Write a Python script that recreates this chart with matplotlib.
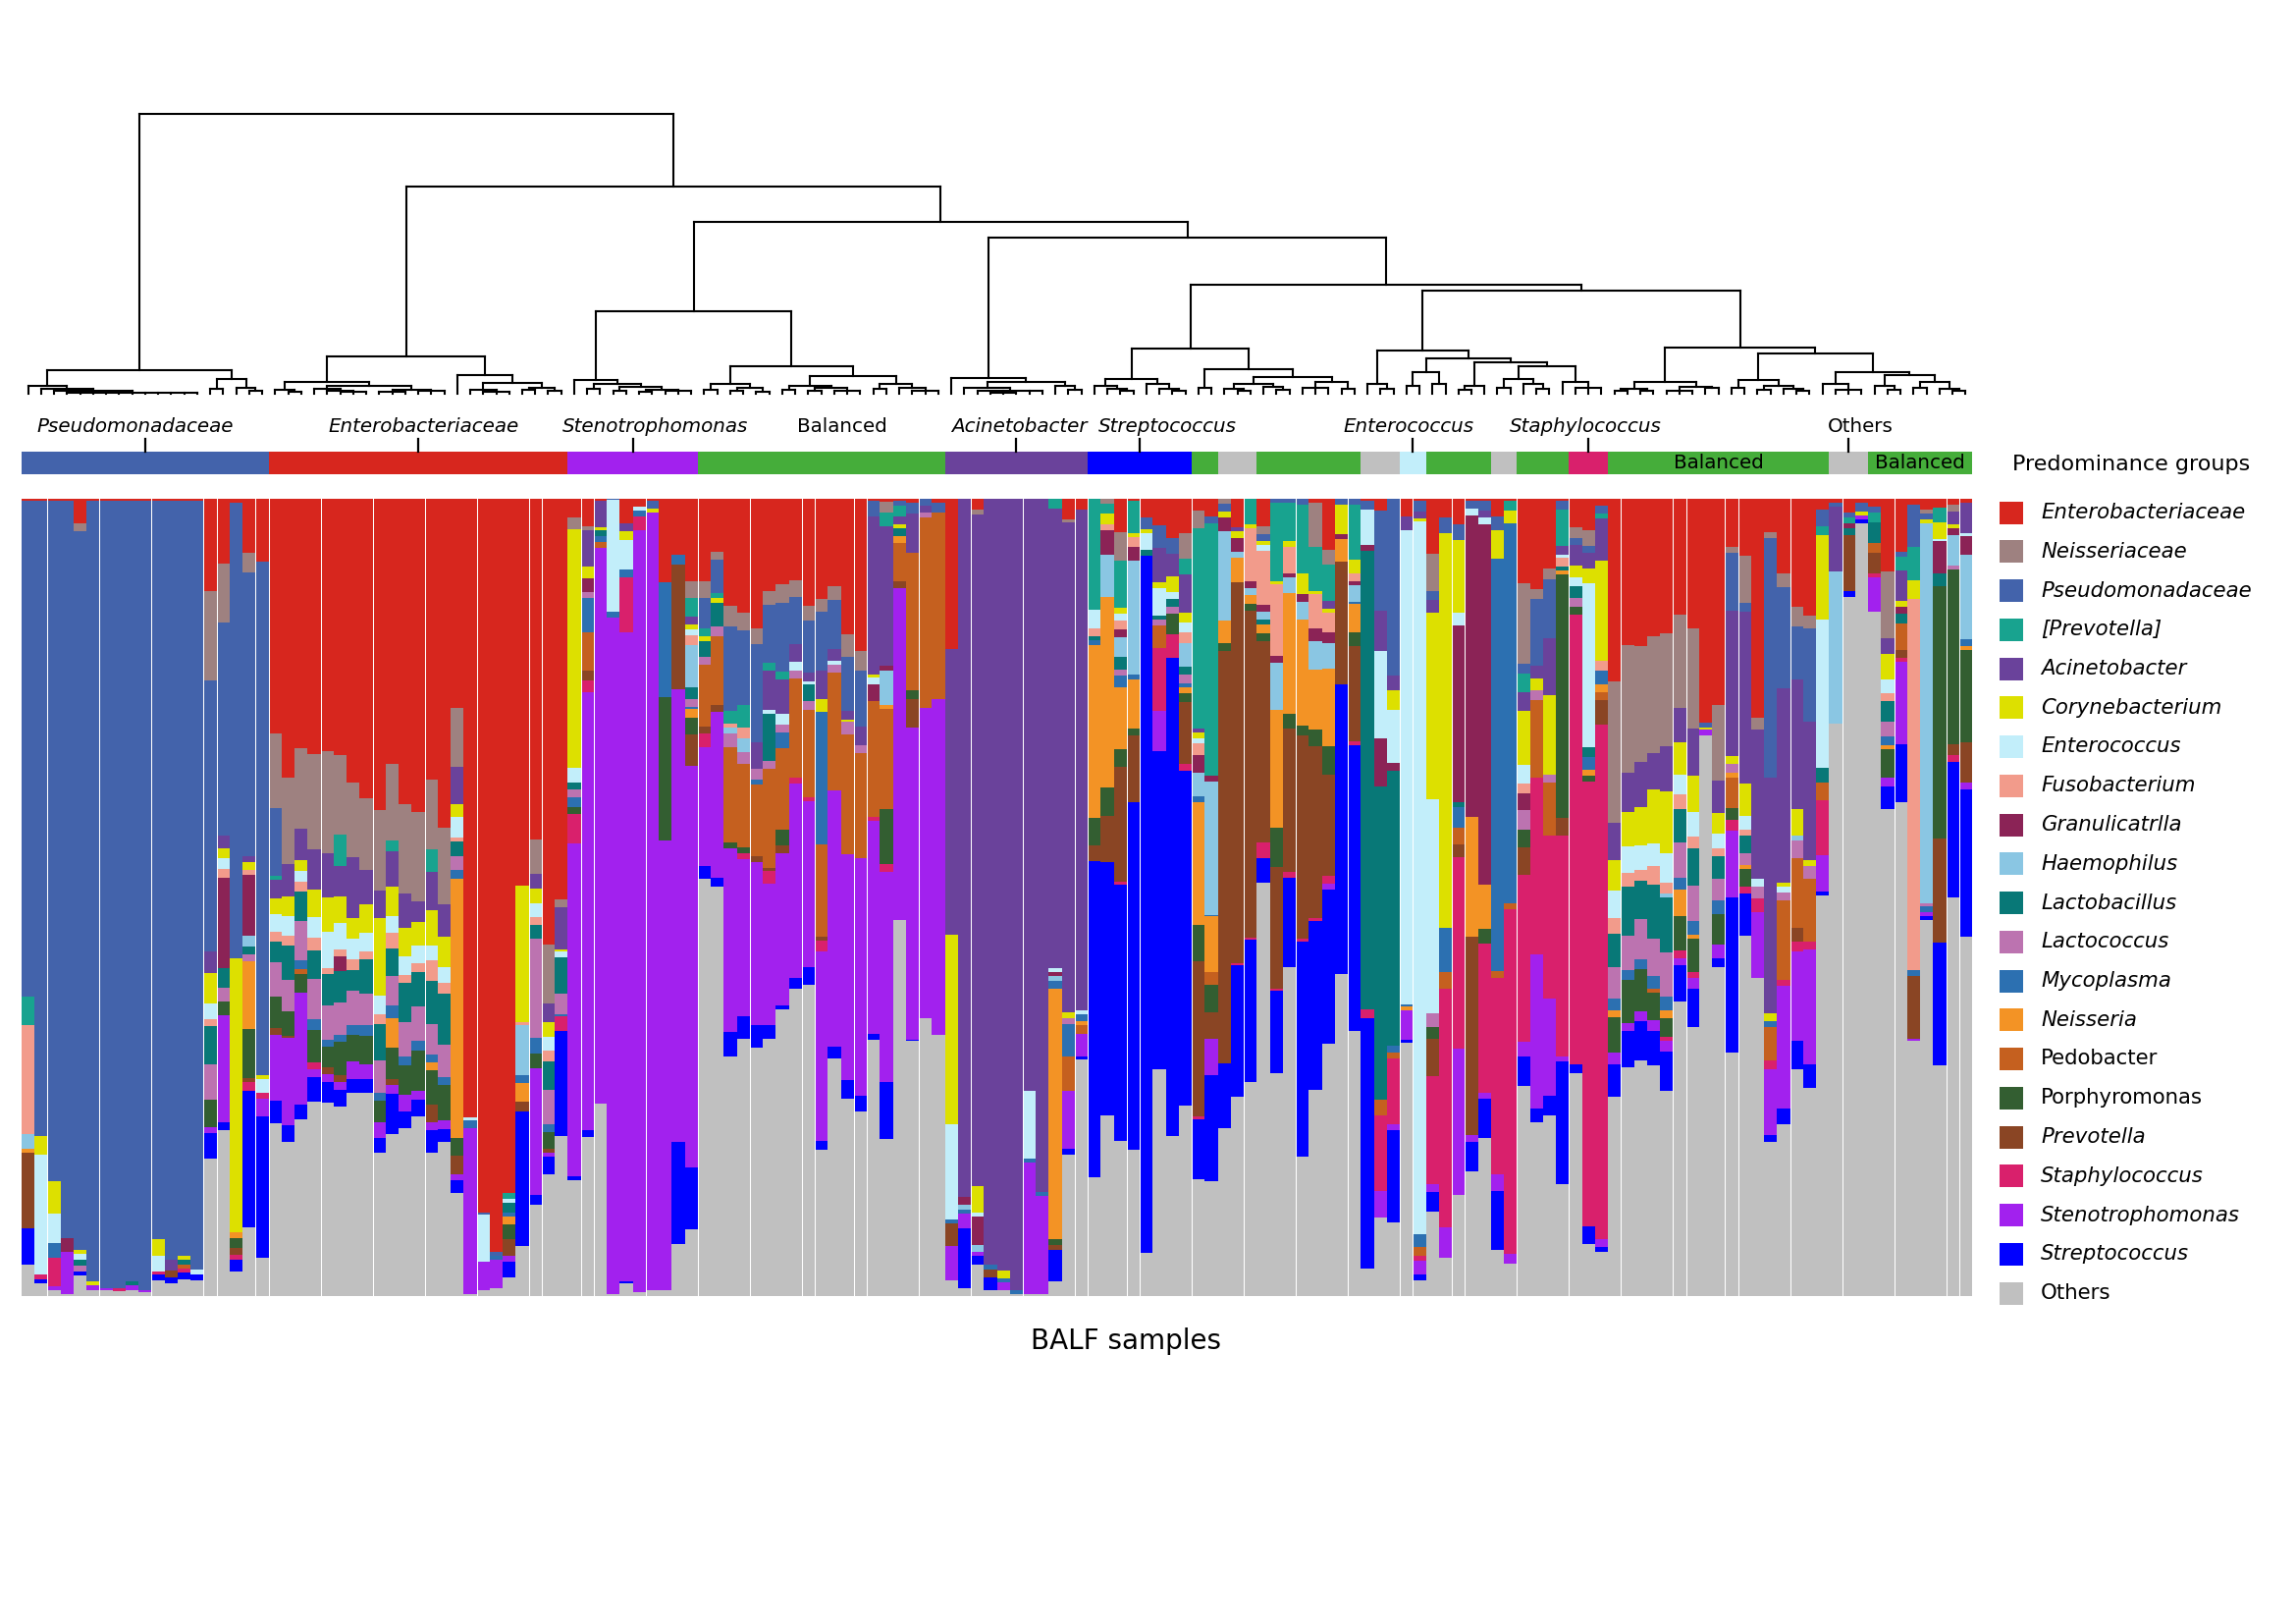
import numpy as np
import matplotlib
matplotlib.use("Agg")
import matplotlib.pyplot as plt
from matplotlib.patches import Rectangle
from matplotlib.collections import LineCollection
import matplotlib.transforms as mtransforms

plt.rcParams['font.family'] = ['DejaVu Sans']

# ---------------- categories (legend order, top to bottom) ----------------
taxa = ["Enterobacteriaceae", "Neisseriaceae", "Pseudomonadaceae", "[Prevotella]",
        "Acinetobacter", "Corynebacterium", "Enterococcus", "Fusobacterium",
        "Granulicatrlla", "Haemophilus", "Lactobacillus", "Lactococcus",
        "Mycoplasma", "Neisseria", "Pedobacter", "Porphyromonas", "Prevotella",
        "Staphylococcus", "Stenotrophomonas", "Streptococcus", "Others"]
taxon_colors = ["#D7261E", "#9E8180", "#4363AB", "#18A38F", "#6A429B", "#DDE000",
                "#C2EEFA", "#F29B8B", "#8B2356", "#8AC6E3", "#087877", "#BC73B0",
                "#2C70B1", "#F39325", "#C5601F", "#335E31", "#8A4524", "#D9206C",
                "#A221EE", "#0000FF", "#C0C0C0"]
upright_taxa = ["Pedobacter", "Porphyromonas", "Others"]

# ---------------- relative abundances (%) per sample, 150 BALF samples ----------------
others = [4, 1.6, 0.7, 0.3, 2.6, 0.7, 0.7, 0.6, 0.8, 0.5,
          2, 1.6, 2.1, 2, 17.2, 20.8, 3.1, 8.6, 4.8, 21.8,
          19.3, 22.1, 24.4, 24.3, 23.9, 25.5, 25.5, 18, 20.3, 21,
          22.6, 18, 19.3, 12.9, 0.3, 0.8, 1, 2.3, 6.3, 11.4,
          15.3, 20.1, 14.5, 19.9, 24.1, 0.3, 1.6, 0.5, 0.7, 0.8,
          6.5, 8.4, 52.3, 51.4, 30, 32.3, 31.2, 32.3, 36, 38.6,
          39, 18.3, 29.8, 24.8, 23.1, 32.2, 19.7, 47.2, 32, 34.9,
          32.7, 2, 1, 4, 0.8, 0.7, 0.3, 0.3, 0.3, 1.8,
          17.7, 29.7, 14.9, 22.6, 19.5, 18.3, 5.4, 28.4, 20.1, 23.9,
          14.7, 14.4, 21, 25, 26.9, 51.8, 27.9, 41.3, 17.5, 25.9,
          31.7, 40.4, 33.3, 3.4, 9.9, 9.2, 31.8, 2, 10.4, 4.8,
          12.7, 15.7, 19.8, 5.8, 4.1, 25.7, 21.8, 22.6, 14, 27.9,
          6.5, 5.6, 25, 28.7, 29.6, 29, 25.7, 37, 33.8, 70.3,
          41.3, 30.5, 45.2, 39.9, 19.3, 21.5, 28.4, 26.1, 50.3, 71.8,
          87.7, 96.9, 85.8, 61.1, 61.9, 32, 47.2, 29, 50, 45.4]
streptococcus = [4.5, 0.5, 0, 0, 0.5, 0, 0, 0, 0, 0,
                 0.7, 0.7, 0.9, 0.7, 3.2, 1, 1.4, 17.2, 17.8, 2.8,
                 2.2, 1.8, 3, 2.6, 2, 1.7, 1.7, 1.8, 5.1, 2.1,
                 2, 2.8, 1.7, 1.7, 0, 0, 0, 2, 16.8, 1.3,
                 2.2, 13.2, 0.5, 0.9, 0, 0, 0.3, 0, 0, 0,
                 12.8, 7.7, 1.7, 1.1, 3.1, 2.8, 2.8, 1.7, 0.5, 1.3,
                 2.2, 1.1, 1.5, 2.3, 2, 0.7, 7.1, 0, 0.2, 0,
                 0, 0, 7.5, 1, 1.5, 0, 0, 0, 0, 4,
                 0.8, 0.3, 39.6, 31.7, 32.1, 43.6, 87.5, 39.9, 59.9, 42,
                 7.5, 13.3, 8.2, 16.5, 17.8, 3.1, 10.4, 11.2, 26.9, 21.1,
                 19.3, 36.3, 35.8, 31.4, 0, 11.6, 0.4, 0.7, 2.4, 0,
                 0, 3.6, 5, 7.4, 0, 3.6, 1.7, 2.5, 15.4, 1.2,
                 2.2, 0.5, 4.1, 4.6, 4.9, 4.3, 5, 4.5, 4.8, 0,
                 1.1, 19.5, 5.3, 0, 0.9, 2, 3.6, 3, 0.4, 0,
                 0.7, 0.5, 0, 2.8, 7.3, 0, 0.5, 15.3, 17, 18.5]
stenotrophomonas = [0, 0, 0.5, 5.3, 0, 0.7, 0.3, 0, 0.5, 0.3,
                    0, 0, 0, 0, 0.8, 13.3, 0, 0, 2.2, 8.4,
                    10.9, 14, 1, 0.9, 1, 2.2, 1.8, 2, 1.1, 2.1,
                    1.2, 1, 1.1, 0.7, 20.8, 3.5, 3.5, 0.7, 0, 15.9,
                    0.5, 0, 41.8, 54.9, 69.8, 84.8, 81.3, 95.6, 97.6, 56.3,
                    56.8, 50.4, 14.8, 20.8, 23.1, 19.7, 20.5, 17.8, 19.1, 24.4,
                    20.8, 23.8, 32.1, 28.3, 29.8, 26.7, 26.4, 41.6, 39.1, 38.9,
                    42.2, 4.3, 1.8, 0.5, 0, 1, 0, 16.5, 12.3, 0,
                    7.3, 2.8, 0, 0, 0, 0, 0, 5.1, 0, 0,
                    0, 4.6, 0, 0, 0, 0, 0, 0, 0, 0,
                    0.7, 0, 0, 0, 3.3, 0.7, 3.6, 1.7, 1, 3.8,
                    18.3, 0.9, 0.7, 2.1, 1.2, 1.8, 19.3, 12.2, 0.7, 0,
                    0, 1.1, 1.5, 0.9, 1.2, 1.3, 1.3, 0.9, 1.3, 0.7,
                    1.7, 8.4, 0, 8.3, 8.3, 15.4, 11.2, 14.4, 4.6, 0,
                    0, 0.5, 4.3, 1.1, 10.4, 0.3, 0.5, 0, 0, 0.9]
staphylococcus = [0, 0.6, 3.6, 0, 0, 0, 0, 0.4, 0, 0,
                  0.4, 0, 0.5, 0, 0, 0, 0.7, 1, 0.7, 0,
                  0, 0, 0.9, 0, 0, 0, 0, 0, 0, 0,
                  0, 0, 0, 0, 0, 0, 0, 0, 0, 0,
                  0, 1.8, 3.7, 1.5, 0, 0, 6.9, 1.8, 0, 0,
                  0, 0, 1.8, 0, 0, 0.7, 0, 1.6, 0, 0.7,
                  0.5, 1.3, 0, 0, 0, 0.5, 1, 0, 0, 0,
                  0, 0, 0, 0, 0, 0, 0, 0, 0, 0,
                  0, 0, 0, 0, 0.4, 0, 0, 7.9, 3, 0.8,
                  0.3, 0, 0, 0.3, 0.3, 2, 0.3, 0.7, 0.4, 0.4,
                  1, 0, 0.5, 1.1, 9.4, 8.3, 0, 0.7, 13.3, 30,
                  24.1, 0, 18.7, 24.6, 43.2, 20.3, 22.2, 20.5, 27.7, 56.4,
                  55.8, 64.5, 0, 0, 0, 0, 0.5, 0.9, 0.7, 0,
                  0, 1.3, 0.9, 1.7, 1, 0.8, 1.3, 0.9, 6.9, 0,
                  0, 0, 0.5, 0, 0.5, 0, 0, 0, 0.9, 0]
prevotella = [9.5, 0, 0, 0, 0, 0, 0, 0, 0, 0,
              0, 0.9, 0, 0, 0, 0, 0.8, 0.6, 0, 0.8,
              0.3, 0, 0, 0.9, 0.9, 0, 0, 0, 0.7, 0,
              0, 2.3, 0, 2.3, 0, 0, 0, 2.2, 1.3, 0,
              0.5, 0, 0, 1.2, 0, 0, 0, 0, 0, 0,
              15.7, 4, 0.8, 0.8, 0, 0, 0.7, 0.3, 0.9, 0,
              0, 0.5, 0, 0, 0, 0, 0, 0.9, 3.6, 0,
              0, 2.8, 0, 0, 1, 0, 0, 0, 0, 0.6,
              0, 0, 2, 5.8, 14.5, 8.4, 0, 0, 0, 7.8,
              19.5, 3.3, 51.7, 47.7, 40.9, 25.3, 15.2, 18, 25.5, 21.6,
              12.7, 15.4, 11.9, 0, 0, 0, 0, 0, 4.6, 0,
              1.5, 24.9, 0, 0, 0, 3.4, 0, 0, 2.2, 0,
              0, 3.1, 0, 0, 0, 0, 0, 0, 0, 0,
              0, 0, 0, 0, 0, 0, 1.7, 0, 0, 0,
              7.1, 0, 2.6, 0, 0.9, 7.8, 0, 13.1, 1.3, 5.1]
porphyromonas = [0, 0, 0, 0, 0, 0, 0, 0, 0, 0,
                 0, 0, 0, 0, 3.4, 1.8, 1.3, 6.1, 0, 4,
                 3, 2.3, 4.1, 2.6, 4.2, 3.3, 3.6, 2.6, 4, 3.8,
                 5, 4.3, 4.4, 2.2, 0, 0, 0, 1.8, 0, 1.8,
                 2, 0, 0.8, 0, 0, 0, 0, 0, 0, 18,
                 0, 2, 0, 0, 0.7, 0.8, 0, 0, 2, 0,
                 0, 0, 0, 0, 0, 0, 6.9, 0, 1.1, 0,
                 0, 0, 0, 0, 0, 0, 0, 0, 0, 0.7,
                 0, 0, 3.5, 3.6, 2.2, 0.9, 0, 0, 2.6, 1.1,
                 4.6, 3.4, 1, 0, 0.9, 0.9, 5, 1.8, 1.3, 2,
                 3.6, 0, 1.7, 0, 0, 0, 0, 0, 1.5, 0,
                 0, 0, 1.8, 0, 0, 2.2, 0, 0, 30.5, 1,
                 0.8, 0, 4.4, 5.4, 5.3, 3.5, 2.4, 4.4, 4.2, 0,
                 3.8, 1.5, 2.2, 0, 0, 0, 0, 0, 0, 0,
                 0, 0, 0, 3.6, 0, 0, 0, 31.7, 21.9, 11.6]
pedobacter = [0, 0, 0, 0, 0, 0, 0, 0, 0, 0,
              0, 0, 0.5, 0, 0, 0, 0, 0, 0, 0,
              0, 0.7, 0, 0, 0, 0, 0, 0, 0, 0,
              0, 0, 0, 0, 0, 0, 0, 0, 0, 0,
              0, 0, 0, 4.9, 0.7, 0, 0, 0, 0, 0,
              0, 0, 7.8, 8.6, 11.9, 10.4, 9, 12.5, 10.2, 12.5,
              11, 11.6, 14.7, 15, 13.1, 14.5, 12.5, 4.8, 17.2, 23.8,
              23.4, 0, 0, 0, 0, 0, 0, 0, 0, 0,
              4.3, 1.1, 0, 0, 0, 0, 0, 2.8, 0, 0,
              0, 1.7, 0, 0, 0, 0, 0, 0, 0, 0,
              0, 0, 0, 0, 2, 0.8, 0, 1, 0, 2,
              2.2, 0, 0, 0.9, 0.7, 0, 9.7, 6.6, 0, 0,
              0, 1, 0, 0, 0, 0.5, 0, 0, 0, 0,
              0, 3.8, 0, 0, 4.3, 9.9, 8.7, 7.9, 2.2, 0,
              0, 0, 1.2, 0, 3.3, 0, 0, 0, 0, 0]
neisseria = [0.5, 0, 0, 0, 0, 0, 0, 0, 0, 0,
             0, 0, 0, 0, 0, 0, 0.7, 8.5, 0, 0,
             0, 0, 0, 0, 0, 0, 0, 0, 3.7, 0,
             0, 1, 0, 32.6, 0, 0, 0, 1, 2.3, 0,
             0, 0, 0, 0, 0, 0, 0, 0, 0, 0,
             0, 1.1, 0, 0, 0, 0, 0, 0, 0, 0,
             0, 0, 0, 0, 0, 0, 0.5, 0.8, 0, 0,
             0, 0, 0, 0, 0, 0, 0, 0, 0, 31.5,
             0, 0.5, 21.6, 23.8, 7.7, 6.1, 0, 0, 0, 0.7,
             15.4, 6.9, 2.8, 3.1, 1.1, 1.1, 14.7, 15.2, 13.2, 7.6,
             9.7, 2.8, 3.6, 0, 0, 0, 0.5, 0, 0, 0,
             0, 15, 5.6, 0, 0, 0, 0, 0, 0.5, 0,
             0.7, 0.9, 0.8, 0, 0, 0, 0.9, 3.3, 0.5, 0,
             0, 0.7, 0.5, 0, 0, 0, 0, 0, 0, 0,
             0, 0, 0, 0.5, 0, 0, 0, 0, 0, 0.5]
mycoplasma = [0, 0, 1.8, 0, 0, 0, 0, 0, 0, 0,
              0, 0, 0, 0, 0, 0, 0, 0, 0, 0,
              0, 1, 1.3, 0.8, 0.9, 1.3, 1.3, 1, 1.5, 1,
              1.3, 0.9, 1, 1.1, 1, 0, 0.5, 0.5, 1, 2,
              1, 0.3, 1.2, 4.3, 0.7, 0.7, 0.9, 0.7, 0, 14.4,
              1.2, 0.3, 0, 0, 0, 0, 0.7, 0, 2, 0,
              0, 16.6, 0, 0, 0, 0, 0, 0, 0, 0,
              0, 0.5, 0.5, 0, 0.7, 0.5, 0.5, 0.5, 0.5, 0.9,
              4.1, 0.9, 0.7, 0, 1.5, 0.7, 0, 0, 0, 0.5,
              0.7, 0.2, 0, 0, 0, 0, 0, 0, 0, 0,
              0, 0, 0.3, 0, 0, 0.8, 0.3, 1.7, 0, 5.6,
              2.5, 0, 0, 51.7, 47.7, 0, 0, 0, 0, 0,
              1.6, 1.8, 1.5, 1.3, 1.3, 1.6, 1.8, 1.5, 1.8, 0,
              1.7, 0, 0, 0, 0.7, 0, 0, 0, 0, 0,
              0, 0, 0, 1.1, 0, 0.8, 0.7, 0, 0, 0.9]
lactococcus = [0, 0, 0, 0, 0.7, 0, 0, 0, 0, 0,
               0, 0, 0, 0, 4.5, 1.7, 0, 0.9, 0, 4.3,
               4, 5, 5.1, 4.3, 4, 4.3, 4, 4.1, 3.8, 4.3,
               4.3, 3.8, 4, 1.7, 0, 0, 0, 0, 0, 12.4,
               4.3, 2.5, 1, 0.7, 0, 0, 0, 0, 0, 0,
               0, 1, 1, 1.3, 1.8, 1.5, 1.3, 1, 1, 1,
               1.1, 0, 1, 1.6, 1, 0, 0, 0, 0, 0.7,
               0, 0, 0, 0, 0, 0, 0, 0, 0, 0,
               0.7, 0, 0, 0, 0.8, 0, 0, 0.7, 0.9, 1.1,
               0, 0, 0, 0, 0, 0, 0, 0, 0, 0,
               0, 0, 0, 0, 0, 0, 0, 0, 1.7, 0,
               0, 0, 0, 0, 0, 2.4, 1.3, 1, 0, 1,
               0, 0, 4, 4.3, 5, 4.6, 5.5, 4.4, 4.4, 0,
               2.8, 1, 1.5, 1.5, 0, 1, 2.2, 1.7, 0, 0,
               0, 0, 0, 1.8, 0, 0, 0.3, 0, 0.5, 0]
lactobacillus = [0, 0, 0, 0, 0.8, 0, 0, 0, 0.5, 0,
                 0, 0, 0.5, 0, 4.8, 2.4, 0, 1, 0, 2.6,
                 4.3, 3.6, 3.5, 4, 4, 2.6, 4.3, 4.5, 3.4, 5,
                 4.3, 5.5, 6.5, 1.9, 0, 0, 0, 1.2, 0, 1.8,
                 3.6, 4.6, 0.9, 0, 0.7, 0, 0, 0, 0, 0,
                 0, 1.5, 2, 3, 0, 0, 0, 5.9, 0, 0,
                 2, 0, 0, 0, 0, 0, 0, 1, 0, 0,
                 0, 0, 0, 0, 0, 0, 0, 0, 0, 0,
                 0, 0, 0.5, 0, 1.5, 0, 0.7, 0.5, 0.9, 1.1,
                 0, 0, 0, 0, 0, 0.7, 0, 0, 0, 0,
                 0, 0, 0, 57.6, 39.3, 34.5, 0, 0, 0, 0,
                 0.7, 0, 0, 0, 0, 0, 0, 0, 0.5, 1.6,
                 1.3, 0, 4.1, 6.1, 4.8, 6.8, 6.9, 4.2, 4.6, 0,
                 2.8, 0, 2.2, 0, 0, 0, 0, 0, 1.8, 0,
                 0.8, 0, 2.6, 2.6, 1.3, 0, 0, 1.6, 0, 0]
haemophilus = [1.8, 0, 0, 0, 0, 0, 0, 0, 0, 0,
               0, 0, 0, 0, 0, 0, 0, 1.3, 0, 0,
               0, 0, 0, 0, 0, 0, 0, 0, 0, 0,
               0, 0, 0, 0, 0, 0, 0, 0, 6.3, 0,
               0, 0, 0, 0, 0, 0, 0, 0, 0, 0,
               0, 5.3, 0, 0, 0.7, 1.8, 0, 0, 0, 0,
               0, 0, 0, 0, 0, 0, 4.3, 0, 0, 0,
               0, 0, 0.7, 0.9, 0, 0, 0, 0, 0, 0.7,
               0, 0, 0, 5.3, 2.5, 14.2, 0, 0, 0, 2.9,
               2.9, 16.7, 11.2, 0.7, 0.9, 0.9, 5.9, 2, 2.3, 3.6,
               3.2, 0, 2.1, 0, 0, 0, 0, 0, 0, 0,
               0, 0, 0, 0, 0, 0, 0, 0, 0, 0,
               0, 0, 0, 0, 0, 0, 0.5, 0, 0, 0,
               0, 0, 0, 0, 0, 0, 0.7, 0, 0, 19.1,
               0, 0, 0, 0, 0, 0, 47.7, 0, 3.8, 10.6]
granulicatella = [0, 0, 0, 1.7, 0, 0, 0, 0, 0, 0,
                  0, 0, 0, 0, 0, 11.4, 0, 7.6, 0, 0,
                  0, 0, 0, 0, 1.8, 0, 0, 0, 0, 0,
                  0, 0, 0, 0, 0, 0, 0, 0, 0, 0,
                  0, 0, 0, 1.7, 0, 0, 0, 0, 0, 0,
                  0, 0, 0, 0, 0, 0, 0, 0, 0, 0,
                  0, 0, 0, 0, 0, 2.1, 0.7, 0, 0, 0,
                  0, 0, 1, 3.6, 0, 0, 0, 0, 0, 0.4,
                  0, 0, 0, 3.1, 1, 1.8, 0, 0, 0, 0,
                  2.2, 0.8, 1.7, 1.8, 0.8, 0.9, 0.9, 0.5, 1, 1.5,
                  1.3, 0.7, 0.5, 0.7, 6.1, 1, 0, 0, 0, 0,
                  22.1, 37.8, 45.2, 0, 0, 2, 0, 0, 0, 0,
                  0, 0, 0, 0, 0, 0, 0, 0, 0, 0,
                  0, 0, 0, 0, 0, 0, 0, 0, 0, 0,
                  0.6, 0, 0, 0, 0.9, 0, 0, 4, 0.9, 2.4]
fusobacterium = [13.7, 0, 0, 0, 0, 0, 0, 0, 0, 0,
                 0, 0, 0, 0, 0.8, 1.1, 0, 0.7, 0, 1.3,
                 1.3, 1.3, 1.6, 0.7, 0.9, 1.3, 1, 1.3, 2, 1,
                 1.1, 2.6, 1.3, 0.5, 0, 0, 0, 0, 0.3, 0.9,
                 1.3, 0, 0, 0, 0, 0, 0, 0, 0, 0,
                 0, 1.2, 0, 0, 0.5, 1.3, 0, 0, 0, 0,
                 0, 0, 0, 0, 0, 0, 0, 0, 0, 0,
                 0, 0, 0, 0, 0, 0, 0, 0, 0, 0,
                 0, 0, 0.9, 0.7, 1.1, 1.2, 0, 0, 0, 1.3,
                 1.5, 0, 0, 0, 6.7, 6.8, 9, 3.3, 0, 4.4,
                 2.5, 0, 0.9, 0, 0, 0, 0, 0, 0, 0,
                 0, 0, 0, 0, 0, 1.2, 0, 0, 1.1, 0,
                 0, 1.2, 2, 1.8, 1.3, 2.4, 1.3, 1.8, 1.5, 0,
                 1, 0, 0.7, 0, 0, 0, 0, 0, 0, 0,
                 0, 0, 0, 1, 0, 46.5, 0, 0, 0, 0]
enterococcus = [0, 15, 3.8, 0, 0.7, 0, 0, 0, 0, 0,
                2, 0, 0, 0.6, 2, 1.3, 0, 0, 1.8, 2.2,
                2.4, 1.3, 2.6, 4.6, 3.3, 2.6, 2.3, 2.3, 2, 2.3,
                2.2, 1.8, 2, 2.5, 0.3, 5.9, 0, 0.5, 0, 1.8,
                1.8, 0.7, 1.8, 0, 0, 14.1, 3.7, 0.5, 0, 0,
                0, 0.7, 0, 0, 0, 0, 0, 0.5, 1.3, 1,
                0.4, 0, 0.5, 0, 0, 0.9, 0, 0, 0, 0,
                0, 11.9, 0, 0.5, 0, 0, 0, 8.4, 0, 0.5,
                0, 0.5, 2.4, 0, 0.9, 0, 2.1, 3.5, 0.9, 1.3,
                0.7, 0, 0, 0, 0, 0.7, 0, 0, 0, 0,
                0, 0, 0, 4.4, 10.9, 6.6, 59.4, 89.4, 26.4, 0,
                1.6, 0.9, 0.9, 0, 0, 2.3, 0, 0, 0.4, 1,
                20.5, 0, 3.5, 3.3, 3.1, 2.8, 3.8, 2.5, 3.1, 0,
                1.8, 0, 1.7, 0.9, 0, 0.7, 0, 0, 18.7, 0,
                0, 0, 0, 1.8, 0, 0, 0, 0.3, 0, 0.4]
corynebacterium = [0, 2.4, 4, 0, 0.5, 0.4, 0, 0, 0, 0,
                   2, 0, 0.6, 0, 3.8, 1.3, 34.4, 0.9, 0.4, 2,
                   2.5, 1.3, 3.4, 4.3, 3.4, 2.6, 3.6, 9.7, 3.8, 3.6,
                   3, 4.4, 3.8, 1.7, 0, 0, 0, 0, 17.2, 1.8,
                   1.8, 0.3, 30, 1.5, 0.4, 0, 1.1, 0, 0.5, 0,
                   0, 0.6, 0.5, 0.5, 0, 0, 0, 0, 0, 0,
                   0, 1.6, 0, 0.3, 0, 0.3, 0, 0.5, 0, 0,
                   0, 23.8, 0, 3.3, 0, 1, 0, 0, 0, 0,
                   0.7, 0, 0, 1.3, 0.7, 0.5, 0.5, 0.7, 2, 1.2,
                   0.7, 0, 0.8, 0.8, 0.5, 0.5, 0.4, 0.7, 2.6, 0.3,
                   0.5, 3.6, 1.8, 0, 0, 2.5, 0, 0.3, 23.1, 49.5,
                   9.1, 0, 0, 3.5, 1.6, 6.6, 1.5, 10, 0, 1.5,
                   1.8, 12.5, 3.8, 4.3, 4.8, 6.7, 7.7, 4.1, 4.6, 0.3,
                   2.6, 1, 4.1, 0, 1, 0.5, 3.3, 0.7, 10.6, 0,
                   0, 0.5, 0, 3.1, 0.7, 2.4, 0.5, 2.1, 0.5, 0]
acinetobacter = [0, 0, 0, 0, 0, 0, 0, 0, 0, 0,
                 0, 1.3, 0, 0, 2.7, 1.5, 0, 0.8, 0, 2.3,
                 4, 4, 5.1, 5.6, 3.8, 7.6, 4.3, 3.5, 4.4, 4.3,
                 2.6, 4.9, 4.1, 4.6, 0, 0, 0, 0, 0, 1.8,
                 2.4, 5.3, 0, 4.6, 3.4, 0, 1, 0, 0, 0,
                 0, 1, 0, 0, 0, 0, 3.3, 4.9, 4.3, 2.3,
                 1.1, 3.6, 1.5, 1.1, 2.4, 19.9, 17.4, 1, 5, 0.8,
                 0, 35.8, 87.5, 84.2, 96, 96.8, 99.2, 74.3, 86.9, 57.7,
                 61.6, 62.8, 0, 0, 0, 0, 0, 4.4, 2.8, 4.8,
                 0.5, 0, 0, 0.5, 0, 0, 0, 0, 0, 0,
                 1, 0, 0, 0, 5, 1.8, 1.8, 0.9, 1.5, 0,
                 0, 0, 0.8, 0, 0, 2.3, 1.6, 7.1, 1.1, 2.6,
                 2, 5.3, 4.6, 5, 5.7, 4.6, 5.7, 4.3, 5.9, 0,
                 4, 18.2, 21.5, 18.7, 29.5, 24.4, 16.3, 17.4, 0, 8.1,
                 0, 0, 0, 2, 3.8, 0, 0, 0, 1.6, 3.8]
prevotella_bracket = [3.5, 0, 0, 0, 0, 0, 0, 0, 0, 0,
                      0, 0, 0, 0, 0, 0, 0, 0, 0, 0.5,
                      0, 0, 0, 0, 4, 0, 0, 0, 1.3, 0,
                      0, 2.8, 0, 0, 0, 0, 0, 0.7, 0, 0,
                      0, 0, 0, 0, 0, 0, 0, 0, 0, 0,
                      0, 2.3, 1, 0.7, 1.6, 2.8, 0, 1, 1, 0,
                      0, 0, 0, 0, 0, 0, 1.8, 1.3, 0, 0,
                      0, 0, 0, 0, 0, 0, 0, 0, 0, 1.2,
                      0, 0, 13.9, 1.3, 5.9, 4.1, 0, 0, 0, 2,
                      25.1, 31.6, 0, 0, 3.2, 0, 9.8, 4.8, 8.6, 5.6,
                      4.6, 0, 6.8, 0, 0, 0, 0, 0, 0, 0,
                      0, 0, 0, 0, 1.2, 2.3, 0, 0, 4.6, 0,
                      0, 0.7, 0, 0, 0, 0, 0, 0, 0, 0,
                      0, 0, 0, 0, 0, 0, 0, 0, 1.1, 0,
                      0.8, 0, 1.3, 0, 1.7, 4.2, 0, 1.8, 0, 0]
pseudomonadaceae = [62.2, 79.6, 85.3, 92.5, 90.1, 98, 98.8, 98.8, 98, 99,
                    92.6, 95.2, 94.6, 96.4, 34, 26.7, 57.1, 35.6, 64.5, 8.6,
                    0, 0, 0, 0, 0, 0, 0, 0, 0, 0,
                    0, 0, 0, 0, 0, 0.3, 0.5, 0, 0, 0,
                    0, 0, 0, 0, 0, 0.1, 0, 0, 1, 0,
                    0, 0, 3.8, 4.2, 10.6, 9.4, 12.3, 7.3, 8.6, 5.9,
                    6.6, 7.3, 6.1, 6.8, 7, 2, 0, 0.7, 1.3, 0.9,
                    1.2, 0, 0, 0, 0, 0, 0, 0, 0, 0,
                    0, 0, 0, 0, 0, 0, 1.5, 2.8, 2, 0,
                    0, 0.9, 1, 0, 0, 0.9, 0.5, 0.5, 0.7, 0,
                    0, 0.8, 0.8, 1.1, 12.6, 22.2, 0, 1.3, 1.1, 2,
                    2, 1, 1.3, 1.8, 0, 1.1, 8.3, 7.4, 1, 0.9,
                    0.9, 0.9, 0, 0, 0, 0, 0, 0, 0, 0.6,
                    0, 7.3, 1.1, 0, 30.1, 12.7, 6.6, 11.6, 2, 0.5,
                    0.6, 1.1, 0.7, 0, 0.7, 5.3, 0.7, 0, 0, 0]
neisseriaceae = [0, 0, 0, 0, 1, 0, 0, 0, 0, 0,
                 0, 0, 0, 0, 11.2, 7.4, 0, 2.4, 0, 9.4,
                 10.9, 10, 11.9, 12.7, 9.9, 9.4, 9, 10, 9.6, 11.2,
                 11.2, 8.7, 9.6, 7.5, 0, 0, 0, 0, 0, 4.4,
                 7.3, 1, 1.5, 0.4, 0, 0, 0, 0, 0, 0,
                 0, 2.2, 2.1, 0.9, 2.6, 2.2, 2, 1.7, 2.4, 2.1,
                 1.8, 1.7, 1.8, 2.8, 2.4, 0, 1.3, 0, 0, 0,
                 0, 0, 0, 0.7, 0, 0, 0, 0, 0, 0,
                 0.3, 0, 0, 0.6, 3.6, 0, 0, 0, 0, 3.2,
                 2.2, 0, 0.6, 0, 0, 0.9, 0, 0, 0, 5.5,
                 1.8, 0, 0, 0, 0, 0, 0, 0, 4.6, 0,
                 0, 0, 0, 0, 0, 9.9, 1.3, 1.3, 0, 1.3,
                 2, 0, 17.8, 16, 14.5, 14.7, 14.1, 11.7, 12.5, 0,
                 9.5, 0.8, 5.9, 1.5, 0.7, 1.8, 2.4, 1.6, 0, 0,
                 0, 0, 0, 8.4, 0, 0, 0.5, 0, 0.8, 0]
enterobacteriaceae = [0.3, 0.3, 0.3, 0.2, 3.1, 0.2, 0.2, 0.2, 0.2, 0.2,
                      0.3, 0.3, 0.3, 0.3, 11.6, 8.1, 0.5, 6.8, 7.9, 29.6,
                      35, 31.2, 32, 31.7, 32.3, 35.5, 37.5, 39, 33.3, 38.3,
                      39.3, 35.3, 41.3, 26.2, 77.6, 89.5, 94.5, 87.1, 48.5, 42.7,
                      55.9, 50.2, 2.3, 3.5, 0.2, 0, 3.1, 1, 0.2, 10.5,
                      7, 10.3, 10.4, 6.7, 13.4, 14.3, 16.3, 11.6, 10.7, 10.2,
                      13.4, 12.5, 10.9, 17, 19.1, 0.2, 0.4, 0.2, 0.5, 0,
                      0.5, 18.9, 0, 1.3, 0, 0, 0, 0, 0, 0,
                      2.6, 1.3, 0, 0, 4.2, 0.2, 2.3, 3.3, 4.9, 4.3,
                      1.5, 2.2, 0, 3.6, 0, 3.5, 0, 0, 0, 0.5,
                      6.4, 0, 0, 0.3, 1.5, 0, 2.2, 0.3, 6.8, 2.3,
                      3.2, 0.2, 0.2, 2.2, 0.3, 10.3, 11.3, 8.8, 0.3, 3.6,
                      3.9, 0.9, 22.9, 18.3, 18.5, 17.2, 16.9, 14.5, 16.3, 28.1,
                      25.9, 6, 7.2, 27.5, 4.2, 9.3, 13.6, 14.7, 1.4, 0.5,
                      1.7, 0.5, 1, 9.1, 6.6, 0.7, 1.4, 1.1, 0.8, 0.5]

# ---------------- predominance groups (runs of consecutive samples) ----------------
group_names = ["Pseudomonadaceae", "Enterobacteriaceae", "Stenotrophomonas", "Balanced",
               "Acinetobacter", "Streptococcus", "Balanced", "Others", "Balanced", "Others",
               "Enterococcus", "Balanced", "Others", "Balanced", "Staphylococcus",
               "Balanced", "Others", "Balanced"]
group_sizes = [19, 23, 10, 19, 11, 8, 2, 3, 8, 3, 2, 5, 2, 4, 3, 17, 3, 8]
group_label_runs = [0, 1, 2, 3, 4, 5, 10, 14, 16]
group_label_x = [9.2, 31.4, 49.2, 63.6, 77.2, 88.6, 107.2, 120.8, 141.9]
group_tick_runs = [0, 1, 2, 4, 5, 10, 14, 16]
inner_label_runs = [15, 17]
balanced_color = "#45AD3A"

# rendering seams visible between some adjacent bars (after sample k)
seam_after = [2, 6, 10, 14, 15, 18, 19, 23, 27, 31, 35, 39, 40, 43, 44, 48, 52, 56, 60,
              61, 64, 65, 69, 73, 77, 81, 82, 85, 86, 90, 94, 98, 102, 106, 107, 110,
              111, 115, 119, 123, 127, 128, 131, 132, 136, 140, 144, 148, 149]

# ---------------- hierarchical clustering (merge height, children...) ----------------
A1 = [8, 1, [5, 2, [3, 3, [1.2, 4, 5, 6, 7, 8, 9, 10, 11, 12, 13, 14]]]]
A2 = [14.7, [5, 15, 16], [6, 17, [3, 18, 19]]]
clu_pseudo = [24.3, A1, A2]
E1 = [12, [4, 20, [2.5, 21, 22]],
      [8, [5, 23, [3, 24, [2, 25, 26, 27]]], [4.5, [2.5, 28, 29, 30], [3, 31, 32, 33]]]]
E2 = [19.3, 34, [11.3, [4.5, 35, [2.5, 36, 37, 38]], [6, [4, 39, 40], [3, 41, 42]]]]
clu_entero = [38, E1, E2]
clu_steno = [13.7, 43, [10.3, [5, 44, 45], [7, [3, 46, 47], [4, [2, 48, 49], [3, 50, 51, 52]]]]]
clu_bal1 = [28, [10, [4, 53, 54], [6, [3, 55, 56], [2.5, 57, 58]]],
            [17.7, [8, [4, 59, 60], [6, [3, 61, 62], [3, 63, 64, 65]]],
             [10, [5, 66, 67], [6, 68, [3, 69, 70, 71]]]]]
clu_acin = [16.3, 72, [12, [6, 73, [3, 74, [1.5, 75, 76, 77], 78, 79]], [8, 80, [4, 81, 82]]]]
clu_K = [46, [15, [8, 83, [5, 84, [3, 85, 86]]], [10, 87, [5, 88, [3, 89, 90]]]],
         [25.3, [6, 91, 92], [17, [10, [5, 93, [3, 94, 95]], [7, 96, [4, 97, 98]]],
                              [12, [6, 99, 100, 101], [5, 102, 103]]]]]
clu_M = [44.3, [10, 104, [5, 105, 106]],
         [36, [22, [8, 107, 108], [10, 109, 110]],
          [32, [8, [4, 111, 112], 113],
           [28, [15, [6, 114, 115], [10, 116, [5, 117, 118]]], [12, 119, [6, 120, 121, 122]]]]]]
clu_N = [47, [12, [5, [3, 123, 124], [3, 125, 126]], [7, [3, 127, 128, 129], [6, 130, 131]]],
         [41, [13.7, [6, 132, 133], [8, [4, 134, 135], [5, 136, [3, 137, 138]]]],
          [22, [10, 139, [4, 140, 141, 142]],
           [18.7, [8, 143, [4, 144, 145]], [12, [6, 146, 147], [5, 148, [3, 149, 150]]]]]]]
clu_root = [286, clu_pseudo,
            [212, clu_entero,
             [176, [84.7, clu_steno, clu_bal1],
              [159.7, clu_acin,
               [111, clu_K, [105.3, clu_M, clu_N]]]]]]

# ---------------- figure ----------------
W, H = 2339, 1654
fig = plt.figure(figsize=(W / 100, H / 100), dpi=100)
fig.patch.set_facecolor("white")

def fx(px):
    return px / W

def fy(py):
    return 1 - py / H

X0, X1 = 22, 2009
n = len(others)
xs = np.arange(1, n + 1)

series = {
    "Others": others, "Streptococcus": streptococcus, "Stenotrophomonas": stenotrophomonas,
    "Staphylococcus": staphylococcus, "Prevotella": prevotella, "Porphyromonas": porphyromonas,
    "Pedobacter": pedobacter, "Neisseria": neisseria, "Mycoplasma": mycoplasma,
    "Lactococcus": lactococcus, "Lactobacillus": lactobacillus, "Haemophilus": haemophilus,
    "Granulicatrlla": granulicatella, "Fusobacterium": fusobacterium,
    "Enterococcus": enterococcus, "Corynebacterium": corynebacterium,
    "Acinetobacter": acinetobacter, "[Prevotella]": prevotella_bracket,
    "Pseudomonadaceae": pseudomonadaceae, "Neisseriaceae": neisseriaceae,
    "Enterobacteriaceae": enterobacteriaceae,
}
color_of = dict(zip(taxa, taxon_colors))
total = np.sum([np.asarray(v, float) for v in series.values()], axis=0)

# stacked bars
ax = fig.add_axes([fx(X0), fy(1320), fx(X1) - fx(X0), fy(508) - fy(1320)])
bottom = np.zeros(n)
for t in taxa[::-1]:
    v = np.asarray(series[t], float) / total * 100
    ax.bar(xs, v, bottom=bottom, width=1.0, color=color_of[t], edgecolor="none",
           linewidth=0, antialiased=False)
    bottom += v
for k in seam_after:
    ax.axvline(k + 0.5, color="white", lw=0.75)
ax.set_xlim(0.5, n + 0.5)
ax.set_ylim(0, 100)
ax.axis("off")

# group colour strip
cax = fig.add_axes([fx(X0), fy(483), fx(X1) - fx(X0), fy(460) - fy(483)])
gcolor = dict(color_of)
gcolor["Balanced"] = balanced_color
starts = np.concatenate([[1], 1 + np.cumsum(group_sizes)[:-1]])
for name, s, k in zip(group_names, starts, group_sizes):
    cax.bar(s - 0.5, 1, width=k, align="edge", color=gcolor[name], edgecolor="none",
            linewidth=0)
cax.set_xlim(0.5, n + 0.5)
cax.set_ylim(0, 1)
cax.axis("off")
trans = mtransforms.blended_transform_factory(cax.transData, cax.transAxes)
centers = starts + (np.asarray(group_sizes) - 1) / 2.0
for r in group_tick_runs:
    cax.plot([centers[r], centers[r]], [1.0, 1.57], color="black", lw=1.6,
             transform=trans, clip_on=False)
for r, lx in zip(group_label_runs, group_label_x):
    name = group_names[r]
    style = "normal" if name in ("Balanced", "Others") else "italic"
    cax.text(lx, 2.09, name, transform=trans, ha="center", va="center",
             fontsize=14.3, fontstyle=style, color="black")
for r in inner_label_runs:
    cax.text(centers[r], 0.5, group_names[r], transform=trans, ha="center",
             va="center", fontsize=14.3, color="black")

# dendrogram
dax = fig.add_axes([fx(X0), fy(401), fx(X1) - fx(X0), fy(116) - fy(401)])
segs = []

def layout(node):
    if isinstance(node, int):
        return float(node), 0.0
    h = node[0]
    kids = [layout(c) for c in node[1:]]
    kx = [k[0] for k in kids]
    for cx, ch in kids:
        segs.append([(cx, ch), (cx, h)])
    segs.append([(min(kx), h), (max(kx), h)])
    return (kx[0] + kx[-1]) / 2.0, h

layout(clu_root)
dax.add_collection(LineCollection(segs, colors="black", linewidths=1.5,
                                  capstyle="projecting", clip_on=False))
dax.set_xlim(0.5, n + 0.5)
dax.set_ylim(0, 286)
dax.axis("off")

# overlay in pixel coordinates: legend and axis title
lax = fig.add_axes([0, 0, 1, 1], zorder=-1)
lax.set_xlim(0, W)
lax.set_ylim(H, 0)
lax.axis("off")
lax.text(2050, 473, "Predominance groups", fontsize=16, ha="left", va="center")
for i, (t, c) in enumerate(zip(taxa, taxon_colors)):
    yc = 522 + 39.75 * i
    lax.add_patch(Rectangle((2037, yc - 11.5), 24, 23, facecolor=c, edgecolor="none"))
    lax.text(2079, yc, t, fontsize=15.3, ha="left", va="center",
             fontstyle="normal" if t in upright_taxa else "italic")
lax.text(1147, 1366, "BALF samples", fontsize=20, ha="center", va="center")

fig.savefig("out.png", dpi=100, facecolor="white")
